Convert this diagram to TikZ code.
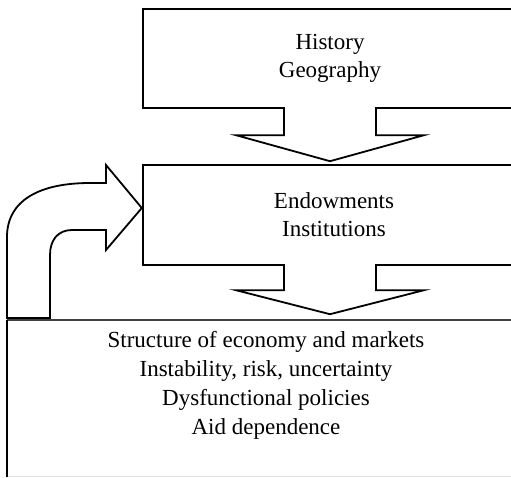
\documentclass[tikz,border=0pt]{standalone}
\usepackage{fontspec}
\setmainfont{Liberation Serif}
\usetikzlibrary{calc}

\begin{document}
\begin{tikzpicture}[x=1pt, y=-1pt,
    box/.style={draw, line width=2.4pt, fill=white, align=center,
      inner sep=0pt, font=\fontsize{23}{28}\selectfont},
    blockarrow/.style={draw, line width=1.8pt, fill=white, line join=miter},
    label/.style={align=center, inner sep=0pt, font=\fontsize{23}{29}\selectfont}]

    \clip (0,0) rectangle (511,477);

    % the two upper boxes
    \node[box, minimum width=374pt, minimum height=99pt] (hist) at (330,58.5)
        {History\\Geography};
    \node[box, minimum width=382pt, minimum height=100pt] (endow) at (334,215)
        {Endowments\\Institutions};

    % the lower, open box
    \coordinate (low) at (7,320);
    \coordinate (lowend) at (511,477);
    \draw[line width=1.2pt, black!75] (low) -- (low -| lowend);
    \draw[line width=1pt, black!12] (lowend -| low) ++(0,-1) -- ++(504,0);
    \draw[line width=2pt] (low) -- (lowend -| low);
    \node[label, anchor=north] (econ) at (266,331)
        {Structure of economy and markets\\
         Instability, risk, uncertainty\\
         Dysfunctional policies\\
         Aid dependence};

    % block arrows down
    \path[blockarrow] (hist.south) ++(-46,-2)
        -- ++(0,28) -- ++(-48,0) -- ++(94,26) -- ++(94,-26) -- ++(-48,0) -- ++(0,-28);
    \path[blockarrow] (endow.south -| hist.south) ++(-46,-2)
        -- ++(0,26) -- ++(-48,0) -- ++(94,24) -- ++(94,-24) -- ++(-48,0) -- ++(0,-26);

    % bent arrow back up
    \coordinate (tip) at ($(endow.west)+(0,-7)$);
    \path[blockarrow]
        (7,318) -- (7,237) .. controls (7,200) and (40,183) .. (90,183)
        -- (106,183) -- (106,165) -- (tip) -- (106,250) -- (106,230)
        -- (72,230) .. controls (58,230) and (50,240) .. (50,255)
        -- (50,318) -- cycle;

\end{tikzpicture}
\end{document}
